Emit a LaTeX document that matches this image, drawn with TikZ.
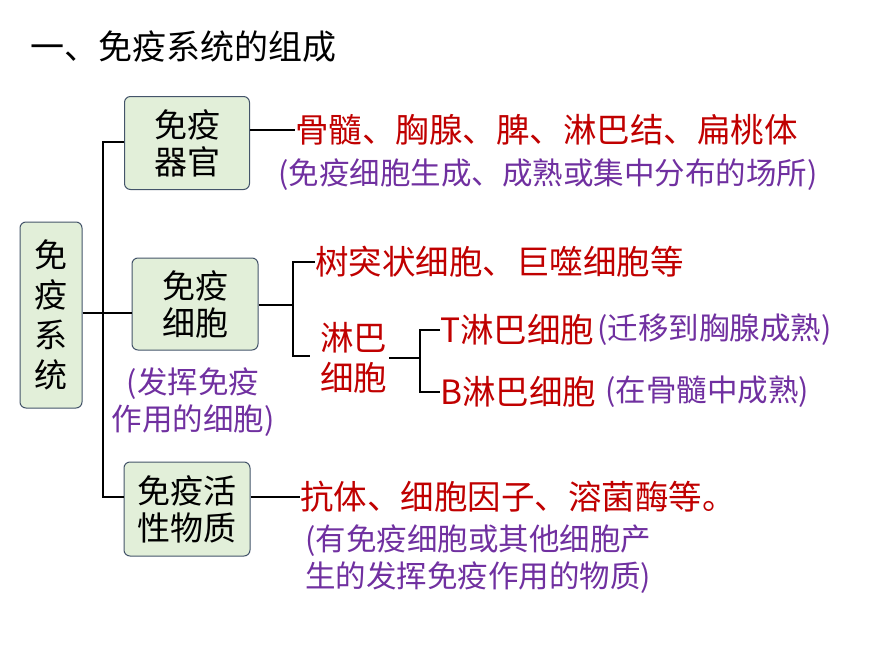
\documentclass[tikz,border=0pt]{standalone}
\usepackage{fontspec}
\setmainfont{Noto Sans CJK SC}
\definecolor{rd}{HTML}{C00000}
\definecolor{pu}{HTML}{7030A0}
\definecolor{bf}{HTML}{E2EFD9}
\definecolor{bd}{HTML}{44546A}
\begin{document}
\begin{tikzpicture}[x=1pt,y=-1pt,
 box/.style={draw=bd,fill=bf,rounded corners=6pt,line width=1pt,align=center,font=\fontsize{33}{37}\selectfont,inner sep=0pt},
 rt/.style={text=rd,anchor=west,inner sep=0pt,font=\fontsize{33.5}{36}\selectfont},
 pt/.style={text=pu,anchor=west,inner sep=0pt,font=\fontsize{30.5}{37}\selectfont},
 ln/.style={line width=1.2pt}]
\useasboundingbox (0,0) rectangle (870,653);
\node[anchor=west,inner sep=0pt,font=\fontsize{34}{36}\selectfont] (title) at (30,47) {一、免疫系统的组成};
\node[box,minimum width=62pt,minimum height=186pt,font=\fontsize{33}{40}\selectfont] (sys) at (51,315) {免\\疫\\系\\统};
\node[box,minimum width=125pt,minimum height=93pt] (org) at (187,143) {免疫\\器官};
\node[box,minimum width=126pt,minimum height=92pt] (cel) at (195,304) {免疫\\细胞};
\node[box,minimum width=126pt,minimum height=94pt] (sub) at (187,509) {免疫活\\性物质};
\coordinate (j) at (103,313);
\coordinate (j1) at (103,142);
\coordinate (j2) at (103,497);
\draw[ln] (sys.east|-j) -- (cel.west|-j);
\draw[ln] (org.west|-j1) -- (j1) -- (j2) -- (sub.west|-j2);
\node[rt] (o1) at (295,130) {骨髓、胸腺、脾、淋巴结、扁桃体};
\node[pt] (o2) at (278,175) {(免疫细胞生成、成熟或集中分布的场所)};
\draw[ln] (org.east|-o1) -- (o1.west);
\node[rt] (c1) at (315,262) {树突状细胞、巨噬细胞等};
\node[rt,align=center,font=\fontsize{33.5}{40}\selectfont] (lb) at (320,358) {淋巴\\细胞};
\coordinate (k) at (293,305);
\draw[ln] (cel.east|-k) -- (k);
\draw[ln] (c1.west) -- (293,262) -- (293,356) -- (310,356);
\node[rt] (t) at (440,330) {T淋巴细胞};
\node[pt] (t2) at (597,330) {(迁移到胸腺成熟)};
\node[rt] (b) at (440,392) {B淋巴细胞};
\node[pt] (b2) at (605,392) {(在骨髓中成熟)};
\draw[ln] (lb.east) ++(2,0) -- (420,358);
\draw[ln] (t.west) -- (420,330) -- (420,392) -- (b.west);
\node[pt,align=center,anchor=center] (cn) at (193,402) {(发挥免疫\\作用的细胞)};
\node[rt] (s1) at (300,497) {抗体、细胞因子、溶菌酶等。};
\draw[ln] (sub.east|-s1) -- (s1.west);
\node[pt,align=left,anchor=north west] (s2) at (305,524) {(有免疫细胞或其他细胞产\\生的发挥免疫作用的物质)};
\end{tikzpicture}
\end{document}
